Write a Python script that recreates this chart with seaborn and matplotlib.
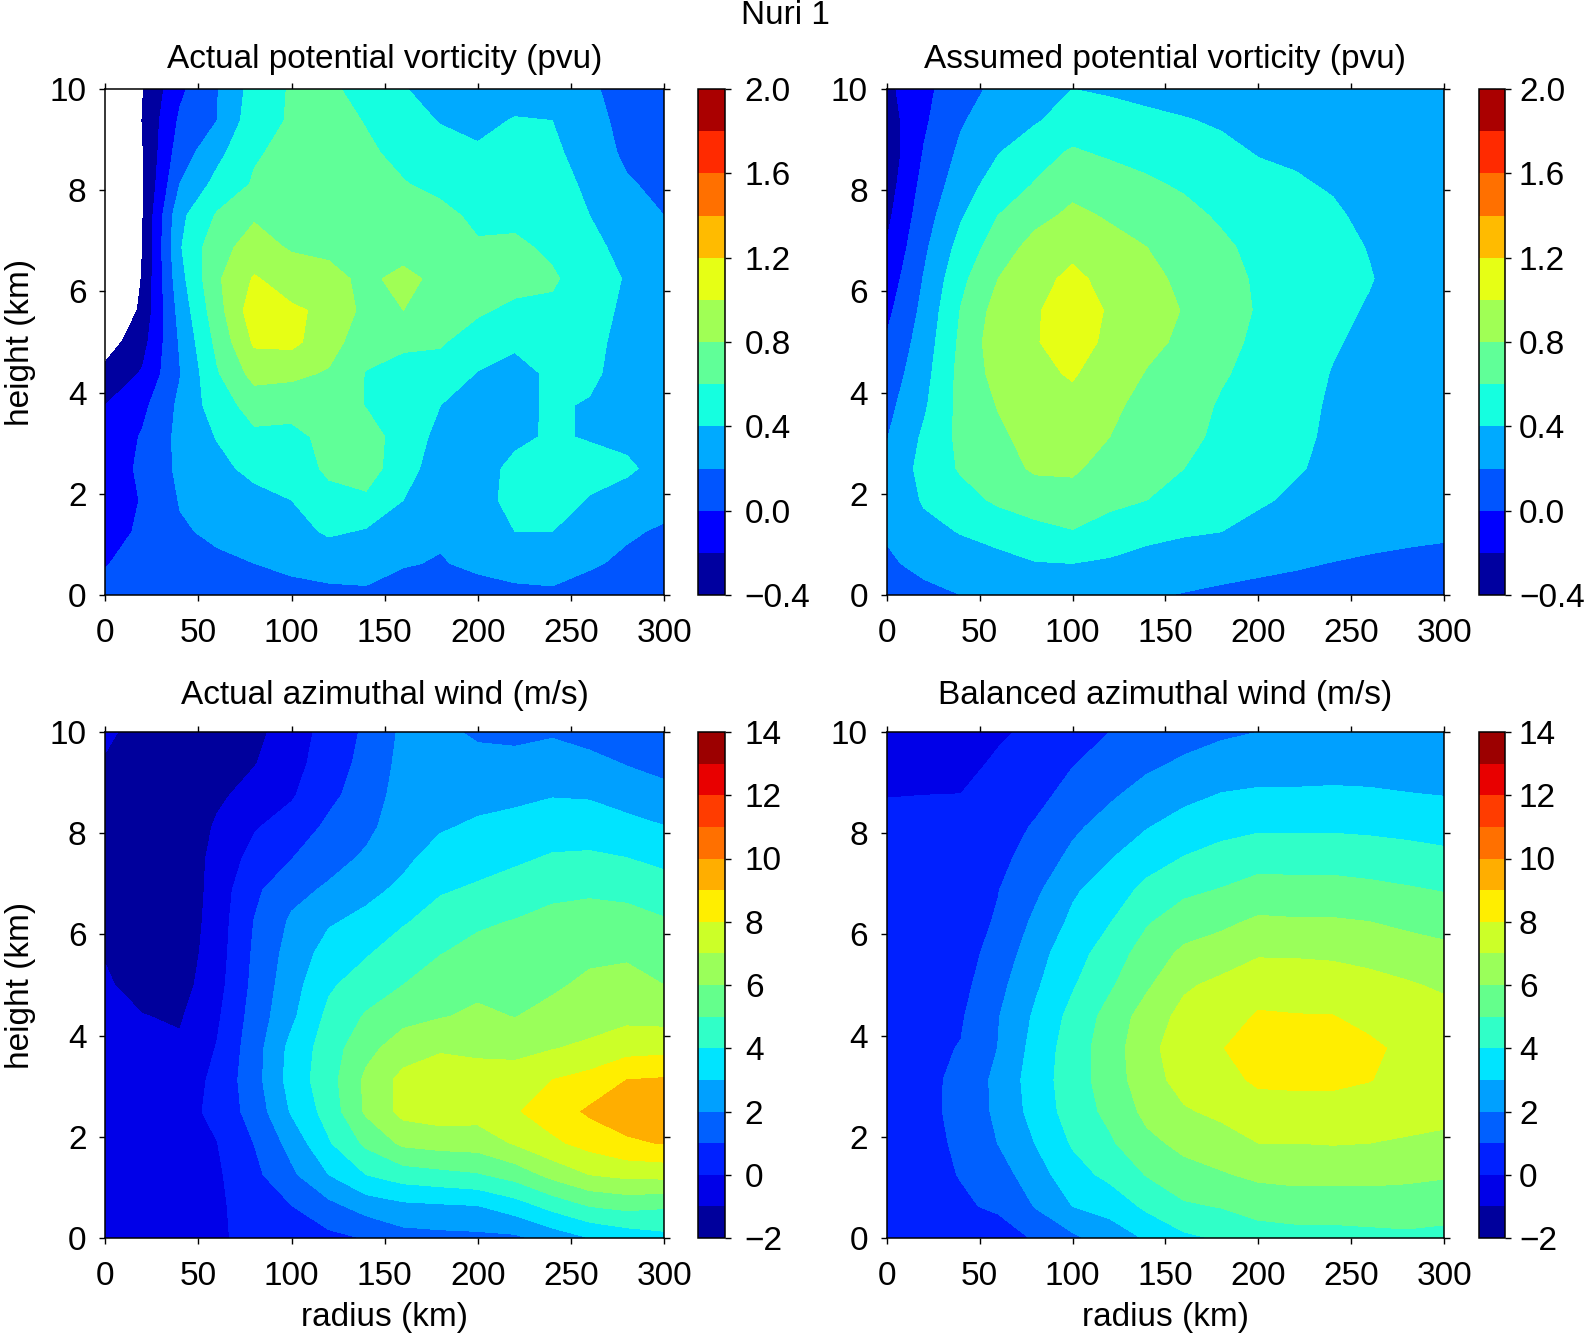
import numpy as np
import matplotlib
matplotlib.use("Agg")
import matplotlib.pyplot as plt
import seaborn as sns
from matplotlib.colors import ListedColormap, BoundaryNorm

sns.set_style("ticks")
plt.rcParams['font.family'] = ['Liberation Sans', 'DejaVu Sans']

radius = np.arange(0, 301, 20)
height = np.arange(0, 10.01, 0.625)

pv_levels = np.arange(-0.4, 2.01, 0.2)
wind_levels = np.arange(-2, 14.01, 1)
pv_colors = ['#0000a0', '#0000ff', '#0055ff', '#00aaff', '#15ffe0', '#60ff98',
             '#a0ff55', '#e6ff15', '#ffbb00', '#ff7000', '#ff2a00', '#aa0000']
wind_colors = ['#00009c', '#0000e8', '#0020ff', '#0060ff', '#00a0ff', '#00e4ff',
               '#30ffc8', '#64ff8c', '#9aff5a', '#ccff28', '#ffee00', '#ffae00',
               '#ff7000', '#ff3c00', '#e80000', '#9c0000']

# one list per radius, from the ground up
actual_pv = np.array([
 [.05,-.01,-.05,-.09,-.12,-.16,-.2,-.34,-.5,-.7,-.9,-1,-1,-1,-1,-1,-1],
 [.1,.07,.02,.01,.04,.02,-.05,-.18,-.27,-.35,-.38,-.4,-.41,-.42,-.41,-.39,-.41],
 [.12,.14,.18,.21,.24,.25,.24,.19,.22,.27,.33,.38,.35,.2,.1,.03,-.04],
 [.14,.17,.23,.27,.34,.41,.5,.58,.65,.72,.77,.74,.62,.46,.34,.2,.19],
 [.12,.2,.25,.33,.46,.56,.68,.87,1.03,1.12,1.02,.87,.78,.62,.58,.52,.48],
 [.17,.22,.32,.4,.48,.54,.68,.84,1.05,1.03,.9,.78,.72,.68,.65,.62,.62],
 [.17,.25,.43,.53,.64,.66,.74,.78,.88,.96,.84,.77,.72,.7,.7,.67,.65],
 [.17,.27,.38,.56,.7,.7,.59,.59,.68,.74,.77,.74,.7,.67,.63,.59,.5],
 [.14,.21,.31,.4,.47,.5,.53,.56,.62,.8,.84,.74,.68,.61,.55,.47,.41],
 [.15,.19,.22,.27,.31,.35,.4,.52,.62,.7,.76,.72,.65,.55,.47,.39,.33],
 [.14,.23,.26,.28,.3,.31,.35,.39,.5,.63,.7,.62,.56,.5,.42,.36,.33],
 [.15,.28,.4,.5,.46,.35,.34,.34,.43,.55,.68,.63,.56,.5,.46,.41,.33],
 [.16,.3,.4,.52,.55,.43,.43,.43,.48,.57,.62,.57,.52,.48,.44,.4,.3],
 [.13,.22,.31,.38,.5,.38,.38,.45,.47,.5,.52,.46,.4,.36,.31,.28,.24],
 [.1,.17,.22,.27,.45,.33,.3,.3,.32,.35,.38,.33,.27,.22,.16,.13,.1],
 [.06,.12,.18,.25,.29,.28,.27,.27,.28,.28,.26,.24,.2,.15,.12,.1,.08],
]).T
assumed_pv = np.array([
 [.12,.17,.22,.24,.22,.19,.14,.08,.02,-.05,-.12,-.19,-.25,-.3,-.33,-.3,-.25],
 [.15,.25,.34,.42,.47,.43,.37,.33,.29,.25,.21,.16,.11,.06,.01,-.03,-.05],
 [.2,.3,.41,.53,.62,.65,.66,.66,.64,.61,.55,.47,.38,.3,.24,.18,.12],
 [.25,.33,.48,.63,.71,.76,.81,.87,.92,.88,.8,.7,.6,.49,.39,.32,.25],
 [.27,.39,.55,.68,.83,.88,.91,.95,.98,.97,.93,.87,.74,.61,.53,.38,.28],
 [.28,.4,.59,.72,.83,.87,.94,1.02,1.14,1.15,1.05,.94,.84,.74,.62,.5,.4],
 [.26,.37,.53,.64,.72,.8,.84,.89,.93,.97,.93,.86,.78,.69,.57,.46,.38],
 [.22,.32,.46,.6,.66,.7,.74,.79,.84,.88,.85,.8,.72,.63,.53,.43,.36],
 [.19,.3,.42,.51,.6,.65,.68,.72,.77,.79,.76,.72,.66,.57,.49,.41,.33],
 [.17,.26,.4,.47,.52,.56,.58,.62,.66,.7,.68,.64,.57,.5,.44,.38,.31],
 [.15,.24,.33,.43,.47,.5,.52,.54,.56,.58,.57,.54,.5,.45,.39,.34,.3],
 [.13,.22,.3,.36,.42,.45,.47,.49,.51,.53,.52,.49,.46,.42,.37,.32,.28],
 [.1,.195,.29,.33,.35,.36,.37,.39,.42,.45,.47,.46,.43,.38,.33,.3,.27],
 [.08,.17,.27,.3,.31,.32,.32,.33,.35,.38,.41,.39,.35,.32,.29,.27,.25],
 [.05,.15,.25,.27,.28,.29,.29,.29,.3,.31,.32,.31,.3,.28,.27,.26,.25],
 [.03,.14,.23,.25,.26,.27,.28,.28,.28,.28,.28,.27,.26,.26,.25,.25,.24],
]).T
actual_wind = np.array([
 [-.4,-.45,-.5,-.55,-.6,-.65,-.7,-.8,-.9,-1.05,-1.3,-1.4,-1.45,-1.45,-1.35,-1.1,-.8],
 [-.35,-.4,-.45,-.55,-.6,-.7,-.8,-.97,-1.3,-1.55,-1.7,-1.8,-1.85,-1.85,-1.75,-1.6,-1.4],
 [-.25,-.3,-.35,-.4,-.45,-.6,-.85,-1.1,-1.4,-1.6,-1.75,-1.85,-1.9,-1.9,-1.8,-1.7,-1.5],
 [-.15,-.15,-.15,-.02,.3,.25,.05,-.15,-.35,-.45,-.5,-.55,-.6,-.85,-1.2,-1.35,-1.4],
 [.3,.4,.75,1.02,1.4,1.6,1.55,1.4,1.25,1.15,1.03,.8,.3,-.08,-.6,-1.05,-1.25],
 [.5,.97,1.8,2.35,3.1,3.4,3.3,2.8,2.6,2.4,2.15,1.7,.98,.4,-.1,-.35,-.55],
 [.75,1.7,3.0,3.9,4.4,4.6,4.5,4.25,3.85,3.4,2.9,2.15,1.65,1.2,.75,.5,.4],
 [1.05,2.4,4.0,5.2,6.15,6.2,5.7,5.1,4.5,3.9,3.25,2.75,2.15,1.75,1.5,1.3,1.15],
 [1.6,2.75,4.5,6.2,7.3,7.3,6.5,5.7,5.0,4.55,3.9,3.2,2.8,2.55,2.4,2.3,2.2],
 [1.7,2.85,4.7,6.4,7.5,7.5,6.9,5.95,5.5,4.97,4.45,3.9,3.4,2.9,2.6,2.4,2.2],
 [1.75,2.95,4.9,6.45,7.4,7.4,6.8,6.15,5.8,5.3,4.85,4.15,3.6,3.15,2.7,2.3,1.85],
 [1.8,3.5,5.4,7.1,7.9,7.4,6.75,5.98,5.7,5.35,5.05,4.4,3.85,3.3,2.8,2.3,1.75],
 [2.4,4.3,6.3,7.8,8.5,8.0,6.95,6.3,5.85,5.6,5.25,4.8,4.1,3.55,2.95,2.4,1.9],
 [3.0,5.0,7.0,8.35,9.15,8.35,7.2,6.55,6.2,5.8,5.35,4.87,4.15,3.55,2.9,2.3,1.6],
 [3.4,5.25,7.25,8.85,9.5,9.0,7.6,6.75,6.35,5.85,5.35,4.75,4.02,3.3,2.6,1.95,1.5],
 [3.7,5.1,7.3,9.05,9.7,9.1,7.7,6.65,6.0,5.55,5.1,4.45,3.75,3.03,2.3,1.7,1.3],
]).T
balanced_wind = np.array([
 [.5,.5,.5,.5,.5,.5,.45,.4,.35,.3,.3,.2,.15,.1,-.01,-.2,-.3],
 [.75,.8,.85,.85,.88,.87,.8,.7,.6,.5,.45,.35,.3,.2,.0,-.2,-.3],
 [.88,.93,1.02,1.08,1.12,1.12,1.04,.9,.7,.62,.56,.48,.4,.3,.01,-.2,-.3],
 [.75,1.08,1.55,2.02,2.25,2.3,2.02,1.95,1.7,1.35,1.1,.97,.75,.55,.3,.1,-.1],
 [1.05,2.05,2.55,3.02,3.35,3.45,3.35,3.15,2.85,2.6,2.2,1.8,1.4,1.1,.7,.4,.15],
 [1.8,3.0,3.6,4.1,4.45,4.55,4.5,4.3,3.9,3.6,3.2,2.85,2.25,1.8,1.35,.95,.55],
 [2.45,3.35,4.25,4.85,5.25,5.45,5.5,5.35,4.85,4.45,3.95,3.5,2.95,2.4,1.85,1.4,1.0],
 [3.1,4.2,5.05,5.75,6.25,6.6,6.7,6.45,5.85,5.45,4.9,4.25,3.6,2.95,2.4,1.8,1.4],
 [3.8,4.85,5.65,6.25,6.9,7.35,7.55,7.3,6.85,6.2,5.5,4.8,4.05,3.4,2.75,2.15,1.6],
 [4.1,5.05,5.9,6.6,7.2,7.7,7.95,7.55,7.25,6.45,5.8,5.05,4.35,3.7,3.05,2.4,1.85],
 [4.55,5.35,6.2,7.0,7.6,8.15,8.5,8.1,7.6,6.9,6.15,5.4,4.6,3.85,3.15,2.55,2.0],
 [4.65,5.45,6.3,7.0,7.6,8.2,8.6,8.05,7.5,6.9,6.1,5.35,4.6,3.85,3.15,2.55,2.0],
 [4.7,5.4,6.3,7.05,7.6,8.2,8.6,8.03,7.45,6.85,6.1,5.35,4.6,3.85,3.2,2.55,2.0],
 [4.75,5.45,6.3,7.0,7.5,8.03,8.2,7.7,7.3,6.7,6.0,5.25,4.5,3.8,3.15,2.55,2.0],
 [4.8,5.5,6.2,6.9,7.35,7.65,7.75,7.5,7.1,6.45,5.8,5.1,4.4,3.7,3.05,2.5,2.0],
 [4.75,5.35,6.1,6.8,7.25,7.5,7.6,7.35,6.85,6.25,5.65,4.95,4.25,3.6,2.98,2.5,2.0],
]).T

W, H = 1587, 1333
FS = 24
def box(x0, x1, y0, y1):
    return [x0 / W, 1 - y1 / H, (x1 - x0) / W, (y1 - y0) / H]

fig = plt.figure(figsize=(W / 100, H / 100), dpi=100, facecolor='white')

def panel(ax_px, cb_px, data, levels, colors, title, title_pad, cticks, cb_pad, xlabel, ylabel):
    ax = fig.add_axes(box(*ax_px))
    cax = fig.add_axes(box(*cb_px))
    cmap = ListedColormap(sns.color_palette(colors))
    norm = BoundaryNorm(levels, cmap.N)
    cs = ax.contourf(radius, height, data, levels=levels, cmap=cmap, norm=norm)
    ax.set_xlim(0, 300)
    ax.set_ylim(0, 10)
    ax.set_xticks(np.arange(0, 301, 50))
    ax.set_yticks(np.arange(0, 11, 2))
    ax.tick_params(axis='x', direction='out', length=4.5, width=1.0, labelsize=FS,
                   top=True, pad=12, color='black', labelcolor='black')
    ax.tick_params(axis='y', direction='out', length=4.5, width=1.0, labelsize=FS,
                   right=True, pad=9, color='black', labelcolor='black')
    for s in ax.spines.values():
        s.set_linewidth(1.1)
        s.set_color('black')
    ax.set_title(title, fontsize=FS, pad=title_pad, color='black')
    if xlabel:
        ax.set_xlabel(xlabel, fontsize=FS, labelpad=7, color='black')
    if ylabel:
        ax.set_ylabel(ylabel, fontsize=FS, labelpad=10, color='black')
    cb = fig.colorbar(cs, cax=cax, ticks=cticks)
    cb.ax.tick_params(direction='out', length=4.5, width=1.0, labelsize=FS, pad=cb_pad,
                      color='black', labelcolor='black')
    cb.outline.set_linewidth(1.1)
    cb.outline.set_edgecolor('black')
    cb.minorticks_off()
    return ax

pv_ticks = np.round(np.arange(-0.4, 2.01, 0.4), 1)
wind_ticks = np.arange(-2, 15, 2)
panel((105.3, 664, 89, 595), (698.4, 724.7, 89, 595), actual_pv, pv_levels, pv_colors,
      'Actual potential vorticity (pvu)', 15, pv_ticks, 10, None, 'height (km)')
panel((886.6, 1444.3, 89, 595), (1478.7, 1505, 89, 595), assumed_pv, pv_levels, pv_colors,
      'Assumed potential vorticity (pvu)', 15, pv_ticks, 5.5, None, None)
panel((105.3, 664, 732, 1238), (698.4, 724.7, 732, 1238), actual_wind, wind_levels, wind_colors,
      'Actual azimuthal wind (m/s)', 20, wind_ticks, 10, 'radius (km)', 'height (km)')
panel((886.6, 1444.3, 732, 1238), (1478.7, 1505, 732, 1238), balanced_wind, wind_levels, wind_colors,
      'Balanced azimuthal wind (m/s)', 20, wind_ticks, 5.5, 'radius (km)', None)

fig.text(785 / W, 1 - 15 / H, 'Nuri 1', fontsize=FS, ha='center', va='center', color='black')
fig.savefig('out.png', dpi=100)
